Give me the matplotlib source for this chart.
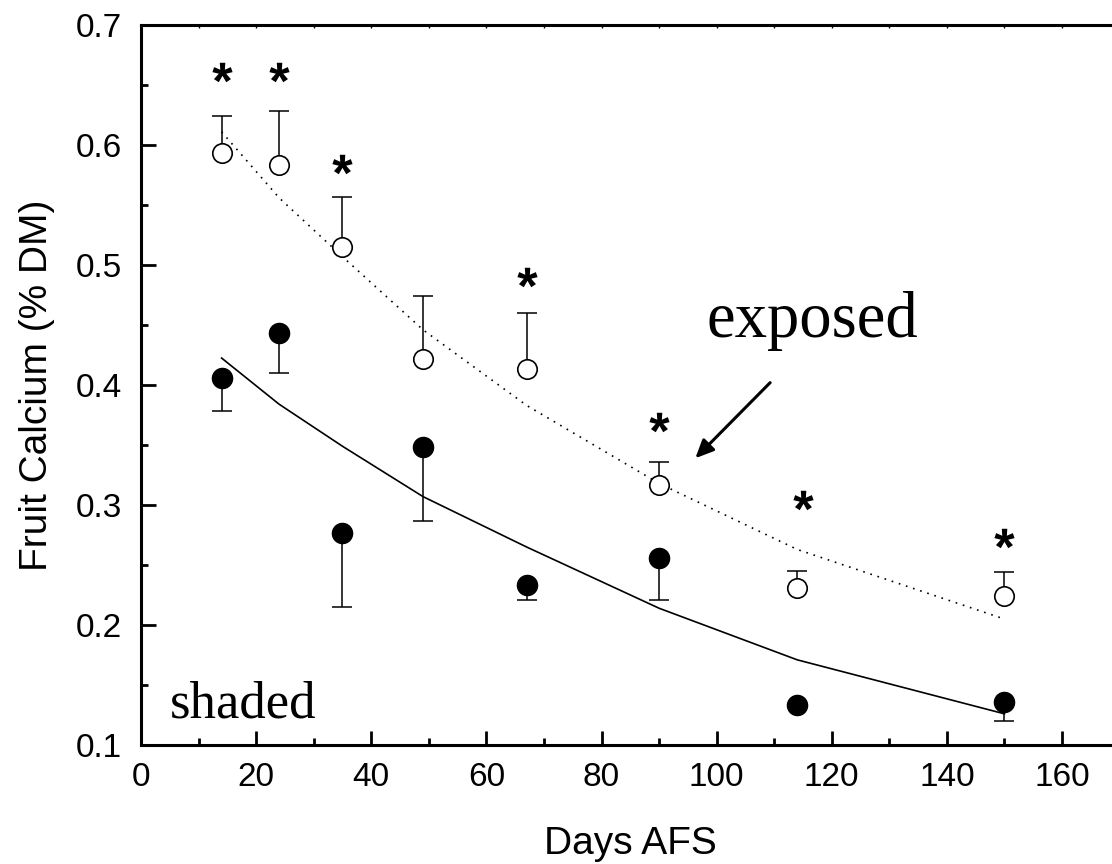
import numpy as np
import matplotlib.pyplot as plt
from matplotlib.textpath import TextPath
from matplotlib.font_manager import FontProperties
from matplotlib.path import Path
from matplotlib.ticker import MultipleLocator

# ---- data ----
days = [14, 24, 35, 49, 67, 90, 114, 150]

exposed = [0.593, 0.583, 0.515, 0.422, 0.413, 0.317, 0.231, 0.224]
exposed_err = [0.031, 0.045, 0.042, 0.052, 0.047, 0.019, 0.014, 0.020]

shaded = [0.406, 0.443, 0.277, 0.348, 0.233, 0.256, 0.133, 0.136]
shaded_err = [0.028, 0.033, 0.062, 0.061, 0.012, 0.035, 0.0, 0.016]

# fitted curves
fit_x = [14, 24, 35, 49, 67, 90, 114, 150]
fit_exposed = [0.611, 0.556, 0.507, 0.446, 0.383, 0.318, 0.263, 0.205]
fit_shaded = [0.4225, 0.384, 0.349, 0.307, 0.265, 0.214, 0.171, 0.126]

# significance marks
star_x = [14, 24, 35, 67, 90, 115, 150]
star_y = [0.661, 0.661, 0.584, 0.490, 0.369, 0.304, 0.2725]

plt.rcParams['font.family'] = ['Liberation Sans', 'DejaVu Sans']

fig = plt.figure(figsize=(11.12, 8.64), dpi=100)
ax = fig.add_axes([0.1268, 0.1377, 0.88, 0.8333])

# fit lines
ax.plot(fit_x, fit_exposed, color='k', lw=1.2, ls=(0, (1, 3.5)))
ax.plot(fit_x, fit_shaded, color='k', lw=1.2, ls='-')

# one-sided error bars
ax.errorbar(days, exposed, yerr=[np.zeros(len(days)), exposed_err], fmt='none',
            ecolor='k', elinewidth=1.1, capsize=7, capthick=1.1)
ax.errorbar(days, shaded, yerr=[shaded_err, np.zeros(len(days))], fmt='none',
            ecolor='k', elinewidth=1.1, capsize=7, capthick=1.1)

ax.plot(days, exposed, 'o', ms=14, mfc='white', mec='k', mew=1.2, ls='none', zorder=3)
ax.plot(days, shaded, 'o', ms=14.5, mfc='k', mec='k', ls='none', zorder=3)

# asterisk marker, centred on its glyph (ignore CLOSEPOLY vertices)
tp = TextPath((0, 0), '*', prop=FontProperties(family='Liberation Sans', weight='bold'))
v = tp.vertices.copy()
codes = tp.codes
real = codes != Path.CLOSEPOLY
c = (v[real].min(0) + v[real].max(0)) / 2
v = v - c
v[~real] = 0
star = Path(v, codes)
ax.plot(star_x, star_y, ls='none', marker=star, ms=14.5, color='k', mec='k', mew=0)

serif = ['Liberation Serif', 'DejaVu Serif']
ax.text(116.7, 0.44, 'exposed', family=serif, fontsize=46.5, ha='center', va='baseline')
ax.text(5, 0.123, 'shaded', family=serif, fontsize=38, ha='left', va='baseline')
ax.annotate('', xy=(96.3, 0.339), xytext=(109.3, 0.402),
            arrowprops=dict(arrowstyle='-|>,head_length=1.1,head_width=0.5',
                            color='k', lw=2.2, shrinkA=0, shrinkB=0))

ax.set_xlim(0, 170)
ax.set_ylim(0.1, 0.7)
ax.xaxis.set_major_locator(MultipleLocator(20))
ax.xaxis.set_minor_locator(MultipleLocator(10))
ax.yaxis.set_major_locator(MultipleLocator(0.1))
ax.yaxis.set_minor_locator(MultipleLocator(0.05))
ax.yaxis.set_major_formatter(plt.FuncFormatter(lambda v, p: f'{v:.1f}'))

ax.tick_params(axis='x', which='major', direction='in', length=10, width=2, labelsize=24, pad=12)
ax.tick_params(axis='x', which='minor', direction='in', length=5, width=2)
ax.tick_params(axis='y', which='major', direction='in', length=11, width=2, labelsize=24, pad=14)
ax.tick_params(axis='y', which='minor', direction='in', length=5, width=2)
ax.tick_params(axis='x', which='both', top=True)
ax.tick_params(axis='x', which='major', top=True, labeltop=False)
for s in ax.spines.values():
    s.set_linewidth(2.2)
for t in ax.xaxis.get_major_ticks() + ax.xaxis.get_minor_ticks():
    t.tick2line.set_markersize(2)
    t.tick2line.set_markeredgewidth(1)

ax.set_xlabel('Days AFS', fontsize=28)
ax.set_ylabel('Fruit Calcium (% DM)', fontsize=28)
ax.xaxis.set_label_coords(85 / 170, -0.113)
ax.yaxis.set_label_coords(-0.088, 0.5)

fig.savefig('out.png', dpi=100)
